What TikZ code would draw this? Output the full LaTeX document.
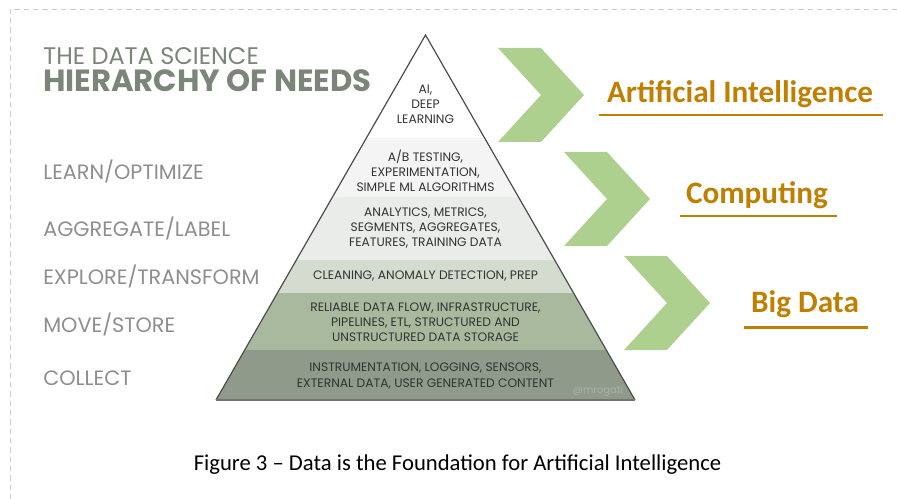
\documentclass[tikz,border=0pt]{standalone}
\usepackage{fontspec}
\setmainfont{Carlito}
\newfontfamily\futura{Poppins}
\usetikzlibrary{positioning}

\definecolor{chevgreen}{HTML}{AED08F}
\definecolor{gold}{HTML}{C07F00}
\definecolor{titlegray}{HTML}{7C8579}
\definecolor{labelgray}{HTML}{8E8E8E}
\definecolor{bandab}{HTML}{F4F4F4}
\definecolor{bandagg}{HTML}{E9ECE8}
\definecolor{bandclean}{HTML}{D3DCCF}
\definecolor{bandmove}{HTML}{A9B99E}
\definecolor{bandcollect}{HTML}{8F9A8A}

\tikzset{
  tag/.style={anchor=base west, inner sep=0pt, text=labelgray,
    font=\futura\fontsize{15.6}{18}\selectfont},
  layer/.style={align=center, inner sep=0pt, text=black!80,
    font=\futura\fontsize{9.2}{11.4}\selectfont},
  goal/.style={anchor=base, inner sep=0pt, text=gold,
    font=\bfseries\fontsize{23.4}{28}\selectfont},
  chev/.style={fill=chevgreen},
  uline/.style={draw=gold, line width=1.6pt},
}

\begin{document}
\begin{tikzpicture}[x=0.75pt, y=-0.75pt]
\useasboundingbox (0,0) rectangle (897,499);
% frame of the page
\draw[black!20, dash pattern=on 4pt off 3pt] (897,9) -- (10,9) -- (10,499);

% title
\node (title1) [anchor=base west, inner sep=0pt, text=titlegray,
  font=\futura\fontsize{18}{21}\selectfont] at (43,65) {THE DATA SCIENCE};
\node (title2) [anchor=base west, inner sep=0pt, text=titlegray,
  font=\futura\bfseries\fontsize{23}{27}\selectfont] at (43,92) {HIERARCHY OF NEEDS};

% levels
\node (learn) [tag] at (43,180) {LEARN/OPTIMIZE};
\node (aggr)  [tag] at (43,237) {AGGREGATE/LABEL};
\node (expl)  [tag] at (43,285) {EXPLORE/TRANSFORM};
\node (move)  [tag] at (43,332) {MOVE/STORE};
\node (coll)  [tag] at (43,385) {COLLECT};

% pyramid
\begin{scope}
\clip (425.5,35) -- (635,400) -- (216,400) -- cycle;
\fill[bandab] (0,138) rectangle (897,197);
\fill[bandagg] (0,197) rectangle (897,260);
\fill[bandclean] (0,260) rectangle (897,293);
\fill[bandmove] (0,293) rectangle (897,350);
\fill[bandcollect] (0,350) rectangle (897,400);
\end{scope}
\draw[black!70, line width=0.9pt] (216,400) -- (425.5,35) -- (635,400);
\draw[black!55, line width=1pt] (216,400) -- (635,400);

\node (ai)    [layer] at (425.5,104) {AI,\\DEEP\\LEARNING};
\node (ab)    [layer] at (425.5,170.5) {A/B TESTING,\\EXPERIMENTATION,\\SIMPLE ML ALGORITHMS};
\node (anal)  [layer] at (425.5,228) {ANALYTICS, METRICS,\\SEGMENTS, AGGREGATES,\\FEATURES, TRAINING DATA};
\node (clean) [layer] at (425.5,276) {CLEANING, ANOMALY DETECTION, PREP};
\node (flow)  [layer] at (425.5,322) {RELIABLE DATA FLOW, INFRASTRUCTURE,\\PIPELINES, ETL, STRUCTURED AND\\UNSTRUCTURED DATA STORAGE};
\node (instr) [layer] at (425.5,376) {INSTRUMENTATION, LOGGING, SENSORS,\\EXTERNAL DATA, USER GENERATED CONTENT};
\node (mark)  [inner sep=0pt, text=bandcollect!75!white,
  font=\futura\fontsize{7.5}{9}\selectfont] at (598,391) {@mrogati};

% chevrons
\foreach \cx/\cy in {498/48, 564/152, 624/256}
  \fill[chev] (\cx,\cy) -- ++(43,0) -- ++(43,47) -- ++(-43,47) -- ++(-43,0) -- ++(43,-47) -- cycle;

\node (aiq)  [goal] at (740,103) {Artificial Intelligence};
\node (comp) [goal] at (757,204) {Computing};
\node (big)  [goal] at (805,313) {Big Data};
\draw[uline] (599,115) -- (883,115);
\draw[uline] (680,216) -- (837,216);
\draw[uline] (744,327.5) -- (868,327.5);

% caption
\node (caption) [anchor=base, inner sep=0pt, font=\fontsize{17}{20}\selectfont]
  at (457.5,470) {Figure 3 -- Data is the Foundation for Artificial Intelligence};
\end{tikzpicture}
\end{document}
